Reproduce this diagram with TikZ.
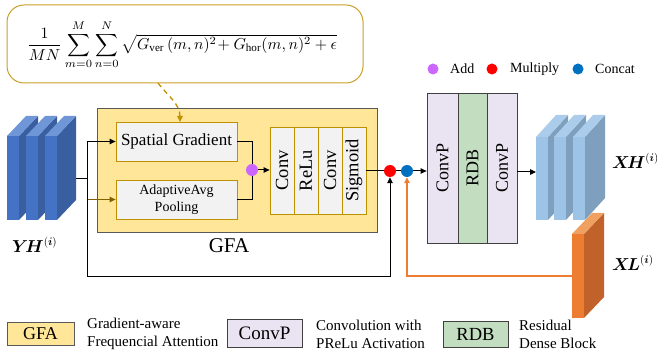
\documentclass[tikz,border=0pt]{standalone}
\usepackage{amsmath}
\usepackage{bm}
\usepackage{fontspec}
\setmainfont{Liberation Serif}
\usetikzlibrary{arrows.meta,calc}
\definecolor{gfay}{HTML}{FFE699}
\definecolor{gfab}{HTML}{595959}
\definecolor{goldb}{HTML}{BF9000}
\definecolor{lgray}{HTML}{F2F2F2}
\definecolor{convpc}{HTML}{EAE4F2}
\definecolor{rdbc}{HTML}{C3DDC0}
\definecolor{boxb}{HTML}{404040}
\definecolor{addc}{HTML}{CC66FF}
\definecolor{mulc}{HTML}{FF0000}
\definecolor{catc}{HTML}{0070C0}
\definecolor{orng}{HTML}{ED7D31}
\definecolor{brwn}{HTML}{806000}
\definecolor{fboxc}{HTML}{C9A02A}
\definecolor{yhf}{HTML}{4472C4}
\definecolor{yhs}{HTML}{3A5FA0}
\definecolor{yht}{HTML}{6F97D8}
\definecolor{xhf}{HTML}{9DC3E6}
\definecolor{xhs}{HTML}{7F9FBF}
\definecolor{xht}{HTML}{ABCDEB}
\definecolor{xlf}{HTML}{ED7D31}
\definecolor{xls}{HTML}{C0622A}
\definecolor{xlt}{HTML}{F0A060}
\newcommand{\slabdraw}[9]{%
  \fill[#8] (#1+#4,#2) -- ++(#5,-#6) -- ++(0,#3-#2) -- (#1+#4,#3) -- cycle;
  \fill[#9] (#1,#2) -- ++(#5,-#6) -- ++(#4,0) -- (#1+#4,#2) -- cycle;
  \fill[#7] (#1,#2) rectangle (#1+#4,#3);
}
\begin{document}
\begin{tikzpicture}[x=1pt,y=-1pt,
  ln/.style={line width=1pt},
  arr/.style={line width=1pt,-{Triangle[length=6pt,width=5.5pt]}},
  inbox/.style={draw=goldb, fill=lgray, line width=0.8pt, minimum width=121pt, minimum height=39pt, inner sep=0pt, align=center},
  col/.style={draw=goldb, fill=lgray, line width=0.8pt, minimum width=24pt, minimum height=87pt, inner sep=0pt},
  big/.style={draw=boxb, line width=0.8pt, minimum height=150pt, inner sep=0pt},
  dot/.style={circle, inner sep=0pt, minimum size=12pt},
  ldot/.style={circle, inner sep=0pt, minimum size=11pt},
  legtxt/.style={anchor=west, align=left, font=\fontsize{15}{18}\selectfont, inner sep=0pt},
  lab/.style={font=\fontsize{16}{18}\selectfont, anchor=west, inner sep=0pt}
]
\useasboundingbox (0,0) rectangle (657,358);

% formula box
\node[draw=fboxc, line width=1pt, fill=white, rounded corners=17pt, minimum width=356pt, minimum height=78pt, inner sep=0pt] (formula) at (185,44) {};
\node[inner sep=0pt] (ftext) at (182,45) {\resizebox{310pt}{!}{$\displaystyle \frac{1}{MN}\sum_{m=0}^{M}\sum_{n=0}^{N}\sqrt{G_{\mathrm{ver}}\,(m,n)^2\!+G_{\mathrm{hor}}(m,n)^2+\epsilon}$}};

% GFA box
\node[draw=gfab, fill=gfay, line width=0.8pt, minimum width=280pt, minimum height=124pt, inner sep=0pt] (gfa) at (237,170) {};
\node[font=\fontsize{21}{24}\selectfont, inner sep=0pt] (gfalab) at (229,246) {GFA};

\node[inbox, font=\fontsize{17}{20}\selectfont] (sg) at (176.5,141.5) {Spatial Gradient};
\node[inbox, font=\fontsize{14}{16.5}\selectfont] (pool) at (176.5,199.5) {AdaptiveAvg\\Pooling};

\node[col] (c1) at (282,170.5) {\rotatebox{90}{\fontsize{18.5}{20}\selectfont Conv}};
\node[col] (c2) at (306,170.5) {\rotatebox{90}{\fontsize{18.5}{20}\selectfont ReLu}};
\node[col] (c3) at (330,170.5) {\rotatebox{90}{\fontsize{18.5}{20}\selectfont Conv}};
\node[col] (c4) at (354,170.5) {\rotatebox{90}{\fontsize{18.5}{20}\selectfont Sigmoid}};

\node[dot, fill=addc] (add) at (252,170) {};
\node[dot, fill=mulc] (mul) at (390,171) {};
\node[dot, fill=catc] (cat) at (407,171) {};

% ConvP RDB ConvP
\node[big, fill=convpc, minimum width=31pt] (p1) at (442.5,168) {\rotatebox{90}{\fontsize{18}{20}\selectfont ConvP}};
\node[big, fill=rdbc, minimum width=29pt] (rdb) at (472.5,168) {\rotatebox{90}{\fontsize{18}{20}\selectfont RDB}};
\node[big, fill=convpc, minimum width=30pt] (p2) at (502,168) {\rotatebox{90}{\fontsize{18}{20}\selectfont ConvP}};

% slabs
\slabdraw{7}{136}{220}{12}{19}{20}{yhf}{yhs}{yht}
\slabdraw{26}{136}{220}{12}{19}{20}{yhf}{yhs}{yht}
\slabdraw{45}{136}{220}{12}{19}{20}{yhf}{yhs}{yht}
\slabdraw{536}{137}{220}{12}{20}{22}{xhf}{xhs}{xht}
\slabdraw{554}{137}{220}{12}{20}{22}{xhf}{xhs}{xht}
\slabdraw{573}{137}{220}{12}{20}{22}{xhf}{xhs}{xht}
\slabdraw{572}{234}{318}{12}{20}{21}{xlf}{xls}{xlt}

\coordinate (yhout) at (76,179);
\coordinate (split) at (87,179);
\coordinate (vbot) at (87,277);
\coordinate (xhin) at (536,172);
\coordinate (xlin) at (572,276);
\coordinate (dstart) at (158,83);
\coordinate (dend) at (180,122);

\node[lab] (yh) at (12,245) {$\bm{Y\!H}^{(\bm{i})}$};
\node[lab] (xh) at (612,161) {$\bm{X\!H}^{(\bm{i})}$};
\node[lab] (xl) at (612,263) {$\bm{X\!L}^{(\bm{i})}$};

% connectors
\draw[ln] (yhout) -- (split);
\draw[arr, brwn] (split |- pool.west) -- (pool.west);
\draw[ln] (split |- sg.west) -- (vbot);
\draw[arr] (split |- sg.west) -- (sg.west);
\draw[ln] (sg.east) -| (add.north);
\draw[ln] (pool.east) -| (add.south);
\draw[arr] (add.east) -- (c1.west |- add.east);
\draw[ln] (c4.east |- mul.west) -- (mul.west);
\draw[ln] (mul.east) -- (cat.west);
\draw[arr] (cat.east) -- (p1.west |- cat.east);
\draw[arr] (vbot) -| (mul.south);
\draw[arr, color=orng, line width=1.3pt] (xlin) -| (cat.south);
\draw[arr] (p2.east |- xhin) -- (xhin);
\draw[goldb, line width=1.3pt, dash pattern=on 5pt off 4pt, -{Triangle[length=6pt,width=5.5pt]}] (dstart) .. controls (168,96) and (180,104) .. (dend);

% top legend
\node[ldot, fill=addc] (la) at (433,69) {};
\node[legtxt, font=\fontsize{14}{16}\selectfont] (lat) at (450,69) {Add};
\node[ldot, fill=mulc] (lm) at (492,69) {};
\node[legtxt, font=\fontsize{14}{16}\selectfont] (lmt) at (510,69) {Multiply};
\node[ldot, fill=catc] (lc) at (578,69) {};
\node[legtxt, font=\fontsize{14}{16}\selectfont] (lct) at (595,69) {Concat};

% bottom legend
\node[draw=gfab, fill=gfay, line width=0.8pt, minimum width=67pt, minimum height=23pt, inner sep=0pt, font=\fontsize{18}{20}\selectfont] (lg) at (40.5,333.5) {GFA};
\node[legtxt] (lgt) at (87,334) {Gradient-aware\\Frequencial Attention};
\node[draw=boxb, fill=convpc, line width=0.8pt, minimum width=75pt, minimum height=28pt, inner sep=0pt, font=\fontsize{19}{20}\selectfont] (lp) at (264.5,333) {ConvP};
\node[legtxt] (lpt) at (316,334) {Convolution with\\PReLu Activation};
\node[draw=boxb, fill=rdbc, line width=0.8pt, minimum width=65pt, minimum height=26pt, inner sep=0pt, font=\fontsize{18.5}{20}\selectfont] (lr) at (475.5,334) {RDB};
\node[legtxt] (lrt) at (519,334) {Residual\\Dense Block};
\end{tikzpicture}
\end{document}
